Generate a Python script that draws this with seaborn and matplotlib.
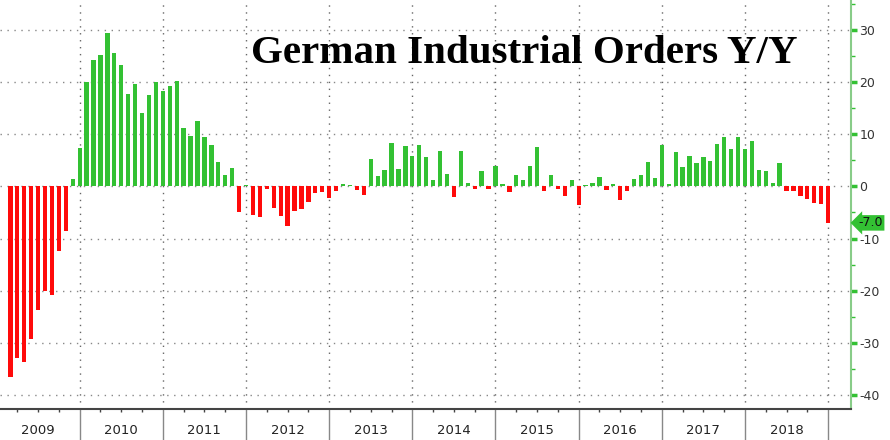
import numpy as np
import pandas as pd
import matplotlib
matplotlib.use("Agg")
import matplotlib.pyplot as plt
import matplotlib.transforms as mtransforms
import seaborn as sns

# German industrial orders, % Y/Y, monthly (Feb 2009 .. Dec 2018)
yoy_2009 = [-36.5, -33.0, -33.6, -29.2, -23.7, -20.1, -20.8, -12.4, -8.6, 1.5, 7.3]  # Feb..Dec
yoy_2010 = [20.1, 24.2, 25.2, 29.5, 25.5, 23.3, 17.8, 19.6, 14.1, 17.6, 20.1, 18.2]
yoy_2011 = [19.3, 20.3, 11.2, 9.6, 12.6, 9.4, 7.9, 4.7, 2.2, 3.5, -5.0, 0.3]
yoy_2012 = [-5.4, -5.8, -0.5, -4.1, -5.7, -7.6, -4.8, -4.4, -3.0, -1.3, -1.0, -2.2]
yoy_2013 = [-0.8, 0.5, 0.2, -0.7, -1.7, 5.3, 2.0, 3.1, 8.4, 3.4, 7.7, 5.8]
yoy_2014 = [7.9, 5.6, 1.3, 6.7, 2.4, -2.1, 6.8, 0.6, -0.5, 2.9, -0.5, 4.0]
yoy_2015 = [0.4, -1.0, 2.1, 1.3, 3.9, 7.6, -0.8, 2.2, -0.5, -1.9, 1.3, -3.6]
yoy_2016 = [0.3, 0.6, 1.8, -0.7, 0.4, -2.6, -0.9, 1.5, 2.2, 4.6, 1.7, 7.9]
yoy_2017 = [0.4, 6.6, 3.8, 5.9, 4.5, 5.7, 4.8, 8.1, 9.5, 7.2, 9.5, 7.2]
yoy_2018 = [8.7, 3.1, 3.0, 0.7, 4.5, -0.8, -0.8, -1.9, -2.4, -3.2, -3.4, -7.0]
years = [2009, 2010, 2011, 2012, 2013, 2014, 2015, 2016, 2017, 2018]
title = "German Industrial Orders Y/Y"

values = (yoy_2009 + yoy_2010 + yoy_2011 + yoy_2012 + yoy_2013 +
          yoy_2014 + yoy_2015 + yoy_2016 + yoy_2017 + yoy_2018)
dates = pd.date_range("2009-02-01", periods=len(values), freq="MS")
# bars sit at month end; x measured in months, 0 = 1 Jan 2010
pos = (dates.year - 2010) * 12 + dates.month
df = pd.DataFrame({"pos": pos, "yoy": values})
df["sign"] = np.where(df["yoy"] >= 0, "up", "down")

GREEN = "#33c133"
RED = "#ff0a0a"

sns.set_style("white")
fig = plt.figure(figsize=(8.9, 4.4), dpi=100)
ax = fig.add_axes([0.0, 31 / 440, 851 / 890, 409 / 440])

sns.barplot(data=df, x="pos", y="yoy", hue="sign", palette={"up": GREEN, "down": RED},
            native_scale=True, dodge=False, width=0.62, legend=False,
            saturation=1, edgecolor="none", ax=ax)

ax.set_xlim(-11.5, 111.3)
ax.set_ylim(-42.7, 35.75)

# grid
ax.set_yticks(np.arange(-40, 31, 10))
ax.set_yticks(np.arange(-35, 36, 10), minor=True)
year_edges = [(y - 2010) * 12 for y in years[1:]] + [(2019 - 2010) * 12]
ax.set_xticks(year_edges)
ax.set_xticks([e + q for e in [-12] + year_edges[:-1] for q in (3, 6, 9)], minor=True)
for yv in np.arange(-40, 31, 10):
    ax.axhline(yv, color="#888888", lw=1.0, ls=(0, (1, 4)), zorder=0)
for xv in year_edges:
    ax.axvline(xv, color="#666666", lw=1.0, ls=(0, (1, 4)), zorder=0)

ax.yaxis.tick_right()
ax.tick_params(axis="y", which="major", colors=GREEN, length=4, width=2.5,
               labelcolor="#333333", labelsize=9, pad=2)
ax.tick_params(axis="y", which="minor", colors=GREEN, length=3, width=1)
ax.tick_params(axis="x", which="major", bottom=True, length=22, width=1,
               color="#888888", labelbottom=False)
ax.tick_params(axis="x", which="minor", bottom=True, length=2.5, width=1,
               color="#444444")
ax.set_yticklabels([f"{v:d}" for v in np.arange(-40, 31, 10)])

for s in ["top", "left"]:
    ax.spines[s].set_visible(False)
ax.spines["right"].set_color("#88cc88")
ax.spines["right"].set_linewidth(1.5)
ax.spines["bottom"].set_color("#444444")
ax.spines["bottom"].set_linewidth(1.5)
ax.set_xlabel("")
ax.set_ylabel("")

# year labels
trans = ax.get_xaxis_transform()
for y in years:
    ax.text((y - 2010) * 12 + 6, -0.052, str(y), transform=trans,
            ha="center", va="center", fontsize=9.5, color="#222222",
            family="DejaVu Sans")

# last value tag
tag = mtransforms.blended_transform_factory(ax.transAxes, ax.transData)
ax.text(1.009, values[-1], f"{values[-1]:.1f}", transform=tag, ha="left",
        va="center", fontsize=9, color="#111111",
        bbox=dict(boxstyle="larrow,pad=0.1", fc=GREEN, ec="none"), clip_on=False)

# title
fig.text(0.589, 0.878, title, ha="center", va="center", fontsize=29.5,
         fontweight="bold", family="Liberation Serif", color="black")

fig.savefig("out.png", dpi=100)
